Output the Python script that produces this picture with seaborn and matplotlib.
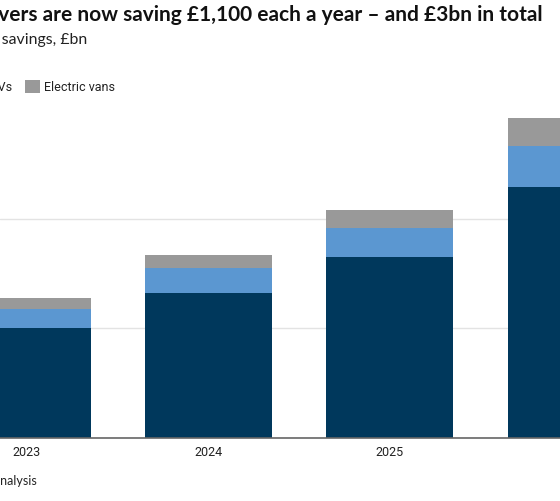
import matplotlib
matplotlib.use("Agg")
import matplotlib.pyplot as plt
from matplotlib.patches import Patch
import seaborn as sns
import pandas as pd
import numpy as np

years = ["2023", "2024", "2025", "2026"]
electric_cars = [1.00, 1.32, 1.65, 2.29]
phevs = [0.18, 0.23, 0.27, 0.38]
electric_vans = [0.10, 0.12, 0.16, 0.25]
series_names = ["Electric cars", "PHEVs", "Electric vans"]
colors = ["#00385c", "#5b97d1", "#999999"]

sns.set_theme(style="white")
plt.rcParams["font.family"] = ["Roboto", "DejaVu Sans"]

df = pd.DataFrame({
    "year": years,
    "cars": electric_cars,
    "phevs": phevs,
    "vans": electric_vans,
})
df["c1"] = df["cars"]
df["c2"] = df["cars"] + df["phevs"]
df["c3"] = df["c2"] + df["vans"]

fig = plt.figure(figsize=(5.6, 5.01), dpi=100)
W, H = 560, 501
base_px, top_px = 438, 110
ax = fig.add_axes([0, (H - base_px) / H, 1, (base_px - top_px) / H])

for col, c in zip(["c3", "c2", "c1"], colors[::-1]):
    sns.barplot(data=df, x="year", y=col, order=years, color=c, width=0.7,
                saturation=1, linewidth=0, ax=ax, zorder=3)

ax.set_xlim(-0.149, 2.937)
ax.set_ylim(0, 2.995)
ax.set_yticks([0, 1, 2])
ax.set_yticklabels([])
ax.yaxis.grid(True, color="#e3e3e3", linewidth=1, zorder=0)
ax.set_xlabel("")
ax.set_ylabel("")
for s in ["top", "right", "left"]:
    ax.spines[s].set_visible(False)
ax.spines["bottom"].set_color("#666666")
ax.spines["bottom"].set_linewidth(1.2)
ax.spines["bottom"].set_zorder(5)
ax.tick_params(axis="x", length=0, pad=6, labelsize=9, labelcolor="#222222")
ax.tick_params(axis="y", length=0)

fig.text(543 / W, 1 - 15 / H,
         "Electric car drivers are now saving £1,100 each a year – and £3bn in total",
         ha="right", va="center", fontsize=15, fontweight="bold",
         family=["Lato", "DejaVu Sans"], color="#111111")
fig.text(87 / W, 1 - 40 / H, "Estimated annual fuel cost savings, £bn",
         ha="right", va="center", fontsize=11.4, family=["Lato", "DejaVu Sans"],
         color="#222222")

handles = [Patch(facecolor=c, edgecolor="none") for c in colors]
fig.legend(handles, series_names, ncol=3, loc="center right",
           bbox_to_anchor=(115 / W, 1 - 87 / H), frameon=False, fontsize=9,
           handlelength=1.2, handleheight=1.2, handletextpad=0.35,
           columnspacing=1.0, borderpad=0, borderaxespad=0,
           labelcolor="#222222")

fig.text(37 / W, 1 - 481 / H, "Source: Carbon Brief analysis", ha="right",
         va="center", fontsize=9, family=["Lato", "DejaVu Sans"], color="#222222")

fig.savefig("out.png", dpi=100)
